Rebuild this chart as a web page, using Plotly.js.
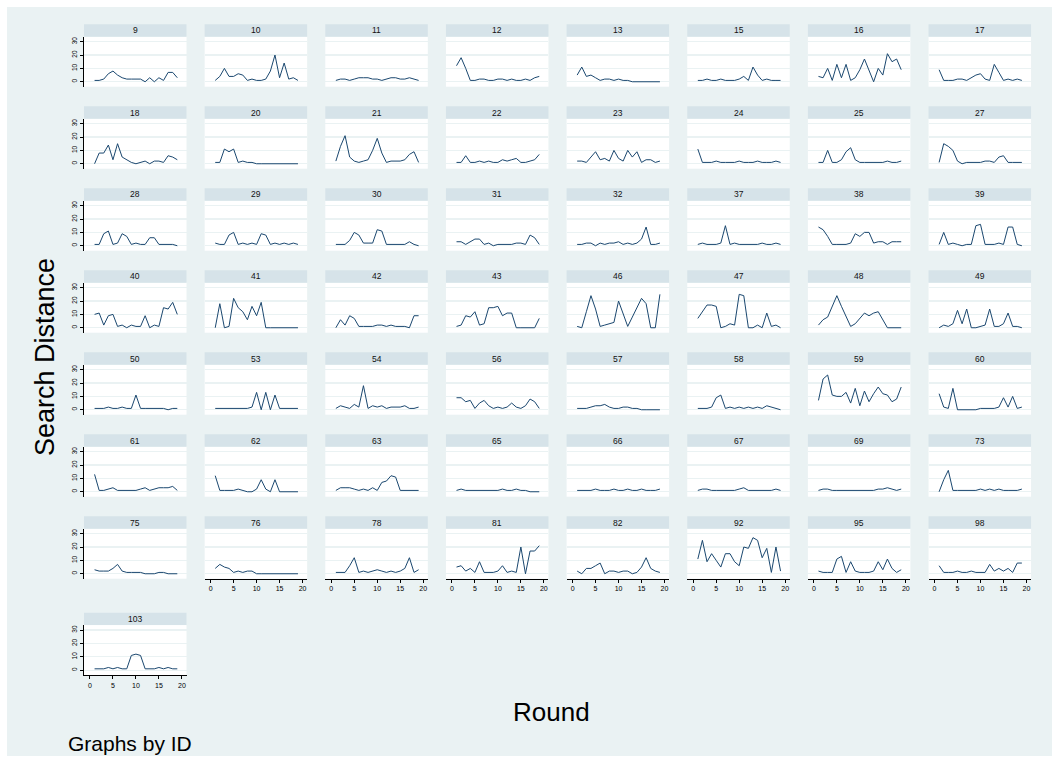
<!DOCTYPE html>
<html><head><meta charset="utf-8">
<script src="https://cdn.plot.ly/plotly-3.0.1.min.js"></script>
<style>html,body{margin:0;padding:0;background:#fff}</style>
</head><body><div id="chart" style="width:1059px;height:763px"></div>
<script>
// ---- data ----
const rounds = [1,2,3,4,5,6,7,8,9,10,11,12,13,14,15,16,17,18,19];
const ids = [9,10,11,12,13,15,16,17, 18,20,21,22,23,24,25,27, 28,29,30,31,32,37,38,39,
             40,41,42,43,46,47,48,49, 50,53,54,56,57,58,59,60, 61,62,63,65,66,67,69,73,
             75,76,78,81,82,92,95,98, 103];
const xTicks = [0,5,10,15,20];
const yTicks = [0,10,20,30];

const id9  = [1,1,2,6,8,5,3,2,2,2,2,0,3,0,3,1,7,7,3];
const id10 = [1,4,10,4,4,6,5,1,2,1,1,2,8,20,3,14,2,3,1];
const id11 = [1,2,2,1,2,3,3,3,2,2,1,2,3,3,2,2,3,2,1];
const id12 = [12,18,10,1,1,2,2,1,1,2,2,1,2,1,1,2,1,3,4];
const id13 = [5,11,4,5,3,1,2,2,1,2,1,1,0,0,0,0,0,0,0];
const id15 = [1,1,2,1,1,2,1,1,1,2,4,1,11,5,1,2,1,1,1];
const id16 = [4,3,10,1,13,3,13,1,3,9,17,9,0,10,5,21,15,17,9];
const id17 = [9,1,1,1,2,2,1,3,5,6,2,1,13,7,1,2,1,2,1];
const id18 = [0,8,8,14,3,15,5,3,1,0,1,2,0,2,2,1,6,5,3];
const id20 = [1,1,11,9,11,1,2,1,1,0,0,0,0,0,0,0,0,0,0];
const id21 = [2,13,21,5,2,1,2,3,10,19,8,1,2,2,2,3,7,9,1];
const id22 = [1,1,6,1,1,2,1,2,1,1,3,2,3,4,1,1,2,3,7];
const id23 = [2,2,1,5,9,3,4,2,10,4,2,10,5,9,1,3,3,1,2];
const id24 = [11,1,1,1,2,1,1,1,1,2,1,1,1,2,1,1,1,2,1];
const id25 = [1,1,10,1,1,3,9,12,3,1,1,1,1,1,1,2,1,1,2];
const id27 = [1,15,13,10,2,0,1,1,1,1,2,2,1,5,6,1,1,1,1];
const id28 = [1,1,9,11,1,2,9,7,1,2,1,1,6,6,1,1,1,1,0];
const id29 = [2,1,1,8,10,1,2,1,2,1,9,8,1,2,1,2,1,2,1];
const id30 = [1,1,1,4,10,8,2,2,2,12,11,1,1,1,1,1,3,1,0];
const id31 = [3,3,1,3,5,5,1,2,0,1,1,1,1,2,2,1,8,6,1];
const id32 = [1,1,2,2,0,2,1,2,2,3,1,2,1,2,5,14,1,1,2];
const id37 = [1,2,1,1,1,2,15,1,2,1,1,1,1,1,2,1,1,2,1];
const id38 = [14,12,7,1,1,1,1,2,9,7,10,10,2,3,3,1,3,3,3];
const id39 = [1,10,1,2,1,0,1,1,15,16,1,1,1,2,1,14,14,1,0];
const id40 = [10,11,2,9,10,1,2,0,2,1,1,9,0,2,1,15,14,19,10];
const id41 = [0,18,0,1,22,15,12,6,16,9,19,0,0,0,0,0,0,0,0];
const id42 = [0,6,2,9,7,1,1,1,1,2,2,1,2,1,1,1,0,9,9];
const id43 = [1,2,9,8,12,2,3,15,15,16,9,11,11,0,0,0,0,0,7];
const id46 = [1,0,12,24,14,1,2,3,4,20,10,1,8,15,22,18,0,0,25];
const id47 = [7,12,17,17,16,0,1,3,2,25,24,0,0,2,0,11,1,2,0];
const id48 = [2,6,8,16,24,16,9,1,3,7,11,9,11,12,6,0,0,0,0];
const id49 = [0,2,1,3,13,3,14,0,0,1,2,14,1,1,3,11,1,1,0];
const id50 = [1,1,1,2,1,1,2,1,1,11,1,1,1,1,1,1,0,1,1];
const id53 = [1,1,1,1,1,1,1,1,2,13,0,13,0,11,1,1,1,1,1];
const id54 = [1,3,2,1,4,2,18,1,3,2,3,1,2,2,2,3,1,1,2];
const id56 = [9,9,6,7,1,5,7,3,1,2,1,2,5,2,1,3,8,6,1];
const id57 = [1,1,1,2,3,3,4,2,1,1,2,2,1,1,0,0,0,0,0];
const id58 = [1,1,1,2,9,11,1,2,1,2,1,2,1,2,1,3,2,1,0];
const id59 = [7,23,26,11,10,10,13,5,16,3,14,6,12,17,12,11,6,8,17];
const id60 = [12,2,1,16,0,0,0,0,0,1,1,1,1,2,9,2,10,1,2];
const id61 = [13,1,1,2,3,1,1,1,1,1,2,3,1,2,3,3,3,4,1];
const id62 = [12,1,1,1,1,2,1,0,0,2,9,2,0,9,0,0,0,0,0];
const id63 = [1,3,3,3,2,1,2,1,3,1,7,8,12,11,1,1,1,1,1];
const id65 = [1,2,1,1,1,1,1,1,1,1,2,1,1,2,1,1,0,0,0];
const id66 = [1,1,1,1,2,1,1,1,2,1,1,2,1,1,2,1,1,1,2];
const id67 = [1,2,2,1,1,1,1,1,1,2,3,1,1,1,1,1,1,2,1];
const id69 = [1,2,2,1,1,1,1,1,1,1,1,1,1,2,2,3,2,1,2];
const id73 = [0,9,16,1,1,1,1,1,1,2,1,2,1,2,1,1,1,1,2];
const id75 = [3,2,2,2,4,7,2,1,1,1,1,0,0,0,1,1,0,0,0];
const id76 = [4,7,5,4,1,2,1,2,2,0,0,0,0,0,0,0,0,0,0];
const id78 = [1,1,1,6,12,1,2,1,2,3,2,1,2,1,2,4,12,1,3];
const id81 = [5,6,2,4,1,9,1,1,1,2,6,1,2,1,20,0,17,17,21];
const id82 = [2,0,4,4,6,8,0,2,2,1,2,2,0,1,5,12,4,2,1];
const id92 = [11,25,9,15,10,5,15,15,9,6,20,19,27,25,12,19,1,20,2];
const id95 = [2,1,1,1,11,13,1,9,2,1,1,1,2,9,3,11,4,1,3];
const id98 = [6,1,1,1,2,1,1,2,1,1,1,7,2,4,2,4,1,8,8];
const id103 = [1,1,1,2,1,2,1,1,11,12,11,1,1,1,2,1,2,1,1];

const series = [id9,id10,id11,id12,id13,id15,id16,id17,
  id18,id20,id21,id22,id23,id24,id25,id27,
  id28,id29,id30,id31,id32,id37,id38,id39,
  id40,id41,id42,id43,id46,id47,id48,id49,
  id50,id53,id54,id56,id57,id58,id59,id60,
  id61,id62,id63,id65,id66,id67,id69,id73,
  id75,id76,id78,id81,id82,id92,id95,id98,
  id103];

// ---- layout geometry (pixels) ----
const W = 1059, H = 763;
const PW = 102.5, HEAD = 12.4, PH = 50;
const colLeft = c => 84 + 120.65 * c;
const rowTop = r => (r < 7 ? 24.3 + 82 * r : 612.7);
const px = v => v / W;
const py = v => 1 - v / H;

const BG = '#EAF2F3', STRIP = '#D6E3E9', LINE = '#1A476F';
const FONT = 'Liberation Sans, Arial, sans-serif';

const traces = [];
const layout = {
  width: W, height: H,
  margin: {l: 0, r: 0, t: 0, b: 0},
  paper_bgcolor: BG,
  plot_bgcolor: '#FFFFFF',
  showlegend: false,
  font: {family: FONT, color: '#000'},
  shapes: [], annotations: []
};

ids.forEach((id, i) => {
  const r = Math.floor(i / 8), c = i % 8;
  const n = i + 1;
  const xa = 'xaxis' + (n === 1 ? '' : n), ya = 'yaxis' + (n === 1 ? '' : n);
  const xr = 'x' + (n === 1 ? '' : n), yr = 'y' + (n === 1 ? '' : n);
  const L = colLeft(c), T = rowTop(r);
  const top = T + HEAD, bot = top + PH;
  const isBottom = (r === 6 && c > 0) || r === 7;
  const isLeft = c === 0;

  traces.push({
    type: 'scatter', mode: 'lines', x: rounds, y: series[i],
    xaxis: xr, yaxis: yr,
    line: {color: LINE, width: 1}, hoverinfo: 'skip'
  });

  layout[xa] = {
    domain: [px(L), px(L + PW)], anchor: yr,
    range: [-1.3, 21.0], showgrid: false, zeroline: false,
    tickmode: 'array', tickvals: xTicks,
    showticklabels: isBottom, showline: isBottom,
    linecolor: '#000', linewidth: 1,
    ticks: isBottom ? 'outside' : '', ticklen: 3, tickcolor: '#000', tickwidth: 1,
    tickfont: {size: 7, family: FONT, color: '#000'}
  };
  layout[ya] = {
    domain: [py(bot), py(top)], anchor: xr,
    range: [-3.7, 33.7], zeroline: false,
    showgrid: true, gridcolor: BG, gridwidth: 1.2,
    tickmode: 'array', tickvals: yTicks,
    showticklabels: isLeft, showline: isLeft,
    linecolor: '#000', linewidth: 1,
    ticks: isLeft ? 'outside' : '', ticklen: 3, tickcolor: '#000', tickwidth: 1,
    tickangle: -90,
    tickfont: {size: 6.5, family: FONT, color: '#000'}
  };

  // strip header
  layout.shapes.push({
    type: 'rect', xref: 'paper', yref: 'paper',
    x0: px(L), x1: px(L + PW), y0: py(T + HEAD), y1: py(T),
    fillcolor: STRIP, line: {width: 0}, layer: 'above'
  });
  layout.annotations.push({
    xref: 'paper', yref: 'paper', x: px(L + PW / 2), y: py(T + HEAD / 2),
    xanchor: 'center', yanchor: 'middle', showarrow: false,
    text: String(id), font: {size: 8.5, family: FONT, color: '#111'}
  });
});

// white outer border
const B = 7;
[[0, 0, W, B], [0, H - B, W, H], [0, 0, B, H], [W - B, 0, W, H]].forEach(([a, b, c2, d]) => {
  layout.shapes.push({type: 'rect', xref: 'paper', yref: 'paper',
    x0: px(a), x1: px(c2), y0: py(d), y1: py(b),
    fillcolor: '#FFFFFF', line: {width: 0}, layer: 'above'});
});

layout.annotations.push({
  xref: 'paper', yref: 'paper', x: px(45), y: py(357),
  xanchor: 'center', yanchor: 'middle', showarrow: false, textangle: -90,
  text: 'Search Distance', font: {size: 27, family: FONT, color: '#000'}
});
layout.annotations.push({
  xref: 'paper', yref: 'paper', x: px(551), y: py(712),
  xanchor: 'center', yanchor: 'middle', showarrow: false,
  text: 'Round', font: {size: 26, family: FONT, color: '#000'}
});
layout.annotations.push({
  xref: 'paper', yref: 'paper', x: px(66), y: py(743),
  xanchor: 'left', yanchor: 'middle', showarrow: false,
  text: 'Graphs by ID', font: {size: 21, family: FONT, color: '#000'}
});

Plotly.newPlot('chart', traces, layout, {displayModeBar: false, staticPlot: true});
</script></body></html>
